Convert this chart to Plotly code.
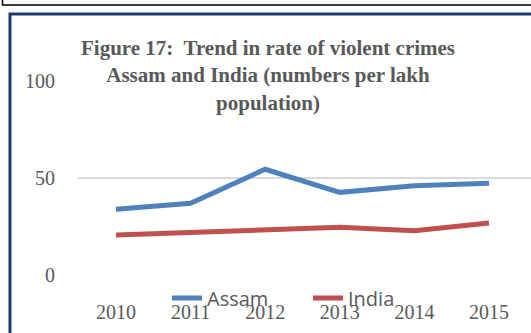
import plotly.graph_objects as go

YEARS = ["2010", "2011", "2012", "2013", "2014", "2015"]
ASSAM = [33.9, 37.0, 54.5, 42.6, 46.0, 47.3]
INDIA = [20.6, 21.8, 23.2, 24.6, 22.8, 26.8]

W, H = 531, 333
L, R, T, B = 78, 0, 80, 57
PW, PH = W - L - R, H - T - B


def px(x):
    return (x - L) / PW


def py(y):
    return (H - B - y) / PH


fig = go.Figure()
fig.add_trace(go.Scatter(x=YEARS, y=ASSAM, mode="lines", name="Assam",
                         line={"color": "#4F81BD", "width": 5}))
fig.add_trace(go.Scatter(x=YEARS, y=INDIA, mode="lines", name="India",
                         line={"color": "#C0504D", "width": 5}))

fig.update_layout(
    width=W, height=H,
    margin={"l": L, "r": R, "t": T, "b": B, "pad": 0},
    paper_bgcolor="white", plot_bgcolor="white",
    title={
        "text": "<b>Figure 17:\u00a0 Trend in rate of violent crimes<br>"
                "Assam and India (numbers per lakh<br>population)</b>",
        "x": 268 / W, "xanchor": "center", "xref": "container",
        "y": 1 - 55 / H, "yanchor": "top",
        "font": {"family": "Liberation Serif", "size": 21, "color": "#595959"},
    },
    showlegend=True,
    legend={
        "orientation": "h", "x": px(167), "xanchor": "left",
        "y": py(298), "yanchor": "middle",
        "bgcolor": "rgba(0,0,0,0)",
        "font": {"family": "Open Sans", "size": 20, "color": "#595959"},
        "entrywidth": 96, "entrywidthmode": "pixels",
    },
    shapes=[
        {"type": "rect", "xref": "paper", "yref": "paper",
         "x0": px(10), "x1": px(W + 20), "y0": py(H + 20), "y1": py(14),
         "line": {"color": "#1F3A6E", "width": 3}, "layer": "below"},
        {"type": "rect", "xref": "paper", "yref": "paper",
         "x0": px(2.5), "x1": px(W + 20), "y0": py(5), "y1": py(-20),
         "line": {"color": "black", "width": 1.5}, "layer": "below"},
    ],
)

fig.update_xaxes(
    type="category", range=[-0.509, 5.563], showgrid=False, showline=False,
    zeroline=False, ticks="", ticklabelstandoff=22,
    tickfont={"family": "Liberation Serif", "size": 20, "color": "#595959"},
)
fig.update_yaxes(
    range=[-0.5, 100.5], tickvals=[0, 50, 100], showgrid=True,
    gridcolor="#D9D9D9", gridwidth=1.5,
    zeroline=False, showline=False, ticks="", ticklabelstandoff=22,
    tickfont={"family": "Liberation Serif", "size": 20, "color": "#595959"},
)

fig.write_html("out.html", config={"displayModeBar": False},
               post_script="document.body.style.margin='0px';")
